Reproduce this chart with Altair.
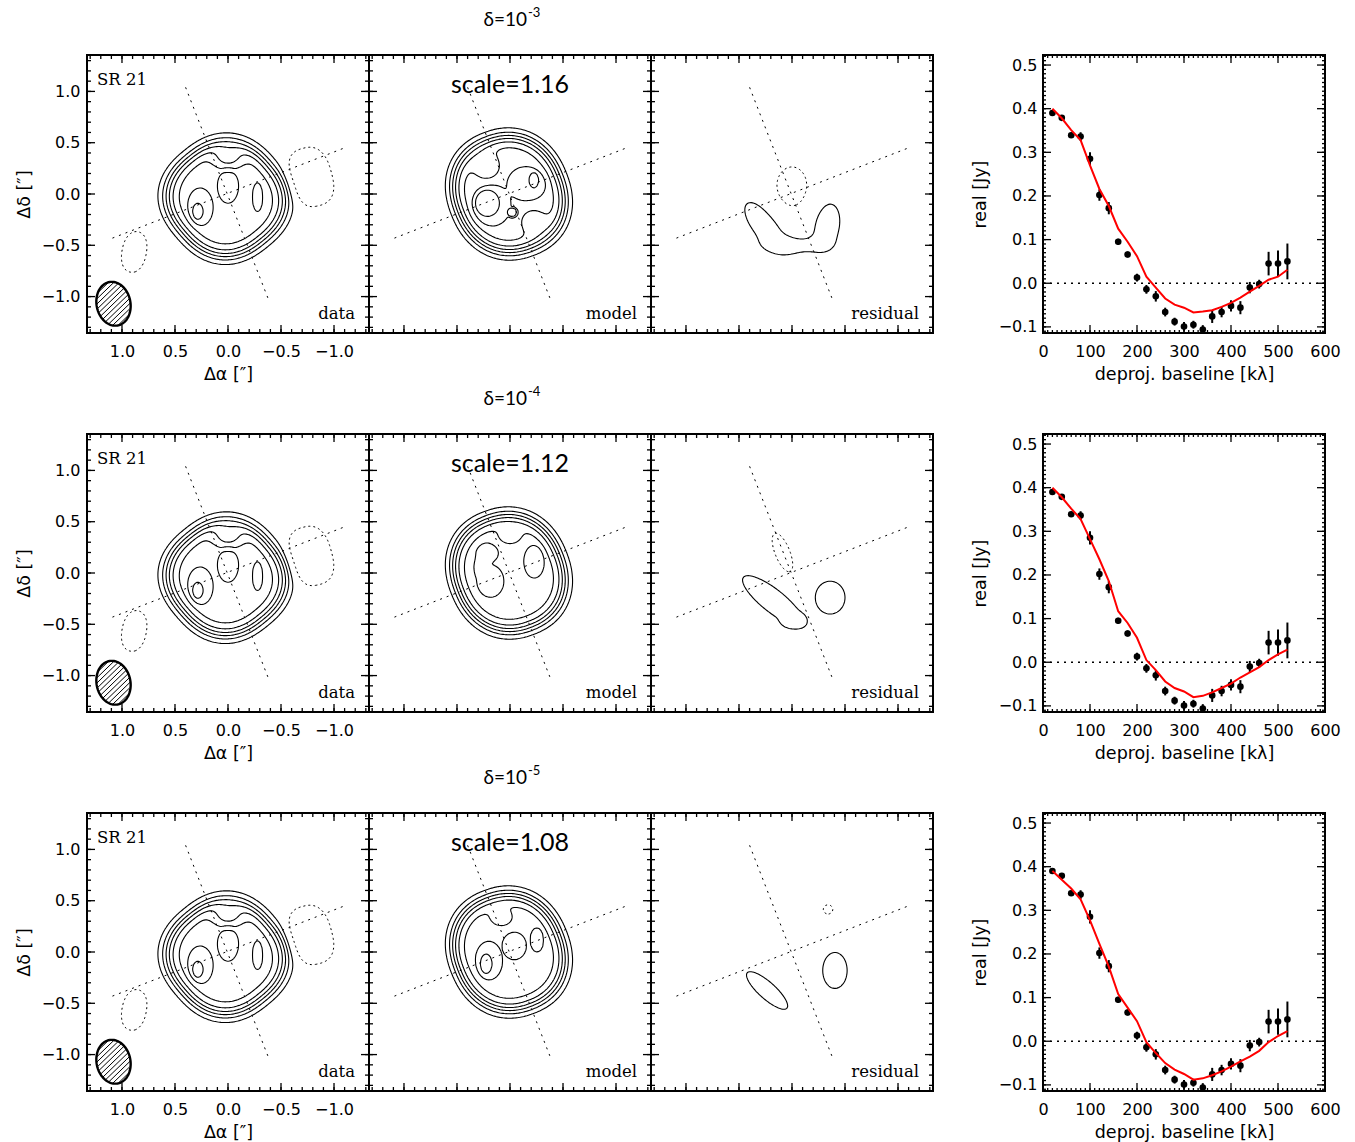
import numpy as np
import pandas as pd
import altair as alt

alt.data_transformers.disable_max_rows()

# ------------------------------------------------------------------
# Visibility profile: binned real part vs. deprojected baseline
# ------------------------------------------------------------------
BASELINE_KL = [20, 40, 60, 80, 100, 120, 140, 160, 180, 200, 220, 240, 260,
               280, 300, 320, 340, 360, 380, 400, 420, 440, 460, 480, 500, 520]
REAL_JY = [0.390, 0.379, 0.339, 0.336, 0.285, 0.202, 0.172, 0.095, 0.066,
           0.013, -0.014, -0.030, -0.066, -0.088, -0.099, -0.095, -0.106,
           -0.076, -0.066, -0.052, -0.056, -0.010, -0.002, 0.045, 0.045, 0.050]
REAL_ERR = [0.006, 0.006, 0.006, 0.010, 0.015, 0.013, 0.014, 0.007, 0.007,
            0.009, 0.010, 0.012, 0.010, 0.009, 0.010, 0.009, 0.010, 0.015,
            0.012, 0.013, 0.015, 0.013, 0.010, 0.027, 0.030, 0.041]
MODEL_D3 = [0.400, 0.378, 0.351, 0.328, 0.270, 0.216, 0.177, 0.125, 0.095,
            0.062, 0.015, -0.010, -0.035, -0.049, -0.056, -0.067, -0.065,
            -0.062, -0.054, -0.045, -0.033, -0.019, -0.006, 0.008, 0.015, 0.031]
MODEL_D4 = [0.400, 0.378, 0.352, 0.328, 0.282, 0.236, 0.186, 0.117, 0.090,
            0.056, 0.005, -0.018, -0.044, -0.059, -0.067, -0.080, -0.077,
            -0.069, -0.059, -0.049, -0.035, -0.023, -0.011, 0.005, 0.018, 0.029]
MODEL_D5 = [0.390, 0.370, 0.350, 0.325, 0.277, 0.223, 0.171, 0.108, 0.077,
            0.046, -0.002, -0.027, -0.050, -0.065, -0.075, -0.088, -0.085,
            -0.078, -0.069, -0.058, -0.046, -0.035, -0.022, -0.002, 0.012, 0.023]
MODEL_CURVES = [MODEL_D3, MODEL_D4, MODEL_D5]

DELTA_EXP = ["-3", "-4", "-5"]
SCALE_TEXT = ["scale=1.16", "scale=1.12", "scale=1.08"]

# ------------------------------------------------------------------
# Sky-brightness components (arcsec, x = Δα).  Soft-edged disks:
#   (x0, y0, a, b, angle, superellipse p, amplitude, edge width)
# Gaussian blobs:
#   (x0, y0, sx, sy, angle, amplitude)
# ------------------------------------------------------------------
DATA_DISKS = [
    (0.02, -0.045, 0.53, 0.52, 50, 2.4, 6.6, 0.18),
    (0.265, -0.13, 0.125, 0.19, 0, 2.0, 0.8, 0.15),
    (0.285, -0.17, 0.05, 0.08, 0, 2.0, 1.2, 0.2),
    (0.0, 0.08, 0.10, 0.17, 0, 2.0, 0.8, 0.15),
    (-0.28, -0.03, 0.05, 0.145, 0, 2.0, 0.8, 0.15),
    (-0.78, 0.165, 0.20, 0.29, -15, 2.6, -2.0, 0.25),
    (0.885, -0.565, 0.115, 0.20, 10, 2.2, -2.0, 0.25),
]
DATA_BLOBS = [(0.0, 0.36, 0.10, 0.08, 0, -2.0)]

MODEL_DISKS = [
    [(0.01, 0.0, 0.56, 0.505, 69, 2.2, 6.6, 0.171),
     (0.18, -0.11, 0.19, 0.21, 0, 2.0, 0.8, 0.15),
     (-0.16, 0.10, 0.19, 0.17, 0, 2.0, 0.8, 0.15),
     (0.215, -0.09, 0.115, 0.13, 0, 2.0, 1.2, 0.15),
     (-0.225, 0.135, 0.045, 0.075, 0, 2.0, 1.2, 0.15),
     (-0.025, -0.18, 0.05, 0.05, 0, 2.0, 1.6, 0.15)],
    [(0.01, 0.0, 0.56, 0.505, 69, 2.2, 6.6, 0.171),
     (0.22, 0.20, 0.12, 0.11, 0, 2.0, 0.6, 0.15),
     (0.19, -0.08, 0.14, 0.17, 0, 2.0, 0.6, 0.15),
     (0.28, 0.06, 0.07, 0.11, 0, 2.0, 0.6, 0.15),
     (-0.23, 0.115, 0.10, 0.165, 0, 2.0, 0.8, 0.15)],
    [(0.01, 0.0, 0.56, 0.505, 69, 2.2, 6.6, 0.171),
     (-0.04, 0.06, 0.115, 0.135, 0, 2.0, 0.8, 0.08),
     (0.20, -0.085, 0.13, 0.19, 0, 2.0, 0.8, 0.08),
     (0.225, -0.115, 0.055, 0.095, 0, 2.0, 1.2, 0.15),
     (-0.255, 0.12, 0.065, 0.12, 0, 2.0, 0.8, 0.08)],
]
MODEL_BLOBS = [
    [(0.22, 0.27, 0.09, 0.09, 0, -1.4), (-0.22, -0.27, 0.09, 0.09, 0, -1.2)],
    [(0.0, 0.36, 0.09, 0.07, 0, -1.0)],
    [(0.08, 0.33, 0.09, 0.07, 0, -1.0)],
]
RESID_DISKS = [
    [],
    [(0.18, -0.27, 0.36, 0.11, 39.5, 2.0, 2.0, 0.25),
     (-0.01, -0.46, 0.12, 0.08, 0, 2.0, 2.0, 0.25),
     (-0.36, -0.24, 0.14, 0.16, 0, 2.0, 2.0, 0.25),
     (0.09, 0.20, 0.20, 0.07, 69, 2.0, -2.0, 0.25)],
    [(0.235, -0.375, 0.255, 0.08, 43, 2.0, 2.0, 0.25),
     (-0.405, -0.18, 0.115, 0.175, 0, 2.0, 2.0, 0.25),
     (-0.34, 0.415, 0.045, 0.045, 0, 2.0, -2.0, 0.25)],
]
RESID_BLOBS = [
    [(0.26, -0.30, 0.26, 0.115, 53, 1.7),
     (-0.33, -0.30, 0.21, 0.115, 98, 1.7),
     (-0.02, -0.50, 0.20, 0.06, 0, 1.2),
     (0.0, 0.07, 0.15, 0.20, 0, -1.6)],
    [],
    [],
]
IMAGE_LEVELS = [1, 2, 3, 4, 5, 6, 7, 8]
RESID_LEVELS = [1]
NEG_LEVELS = [-1]

# disk major / minor axis guide lines
GUIDE_X1 = [0.40, 1.09]
GUIDE_Y1 = [1.04, -0.43]
GUIDE_X2 = [-0.39, -1.10]
GUIDE_Y2 = [-1.05, 0.45]

# synthesized beam: centre, semi-major, semi-minor, angle of major axis
BEAM = (1.08, -1.07, 0.215, 0.16, 80)
HATCH_STEP = 0.036

# axis ticks
IMG_MAJOR = [-1.0, -0.5, 0.0, 0.5, 1.0]
IMG_MINOR = [round(-1.3 + 0.1 * k, 1) for k in range(27)]
VIS_X_MAJOR = [0, 100, 200, 300, 400, 500, 600]
VIS_X_MINOR = list(range(0, 601, 10))
VIS_Y_MAJOR = [-0.1, 0.0, 0.1, 0.2, 0.3, 0.4, 0.5]
VIS_Y_MINOR = [round(-0.11 + 0.01 * k, 2) for k in range(64)]

W_IMG, H_IMG, W_VIS, GAP = 282, 278, 282, 110

GRID = np.linspace(-1.33, 1.33, 201)
GX, GY = np.meshgrid(GRID, GRID)


def rotated(x0, y0, ang):
    t = np.deg2rad(ang)
    dx, dy = GX - x0, GY - y0
    return dx * np.cos(t) + dy * np.sin(t), -dx * np.sin(t) + dy * np.cos(t)


def brightness(disks, blobs):
    z = np.zeros_like(GX)
    for x0, y0, a, b, ang, p, amp, w in disks:
        u, v = rotated(x0, y0, ang)
        r = (np.abs(u / a) ** p + np.abs(v / b) ** p) ** (1.0 / p)
        z += amp * 0.5 * (1.0 - np.tanh((r - 1.0) / w))
    for x0, y0, sx, sy, ang, amp in blobs:
        u, v = rotated(x0, y0, ang)
        z += amp * np.exp(-0.5 * ((u / sx) ** 2 + (v / sy) ** 2))
    return z


# marching squares lookup: corner bits a=1 (bl), b=2 (br), c=4 (tr), d=8 (tl)
SEG = {1: [('L', 'B')], 2: [('B', 'R')], 3: [('L', 'R')], 4: [('R', 'T')],
       6: [('B', 'T')], 7: [('L', 'T')], 8: [('T', 'L')], 9: [('B', 'T')],
       11: [('R', 'T')], 12: [('L', 'R')], 13: [('B', 'R')], 14: [('L', 'B')]}


def trace(z, level):
    above = z > level
    case = (above[:-1, :-1] * 1 + above[:-1, 1:] * 2
            + above[1:, 1:] * 4 + above[1:, :-1] * 8)
    ii, jj = np.nonzero((case > 0) & (case < 15))
    adj = {}
    for i, j in zip(ii.tolist(), jj.tolist()):
        k = int(case[i, j])
        edges = {'B': ('h', i, j), 'T': ('h', i + 1, j),
                 'L': ('v', i, j), 'R': ('v', i, j + 1)}
        if k in (5, 10):
            centre = z[i:i + 2, j:j + 2].mean() > level
            pairs = [('B', 'R'), ('T', 'L')] if (k == 5) == centre else [('L', 'B'), ('R', 'T')]
        else:
            pairs = SEG[k]
        for e1, e2 in pairs:
            p, q = edges[e1], edges[e2]
            adj.setdefault(p, []).append(q)
            adj.setdefault(q, []).append(p)

    def point(key):
        kind, i, j = key
        if kind == 'h':
            z0, z1 = z[i, j], z[i, j + 1]
            f = (level - z0) / (z1 - z0)
            return GRID[j] + f * (GRID[j + 1] - GRID[j]), GRID[i]
        z0, z1 = z[i, j], z[i + 1, j]
        f = (level - z0) / (z1 - z0)
        return GRID[j], GRID[i] + f * (GRID[i + 1] - GRID[i])

    seen, paths = set(), []
    starts = [k for k, v in adj.items() if len(v) == 1] + list(adj)
    for start in starts:
        if start in seen:
            continue
        seen.add(start)
        path, cur = [start], start
        while True:
            nxt = [n for n in adj[cur] if n not in seen]
            if not nxt:
                break
            cur = nxt[0]
            seen.add(cur)
            path.append(cur)
        if len(path) > 2 and start in adj[cur]:
            path.append(start)
        paths.append([point(k) for k in path])
    return paths


def contour_frame(z, levels):
    rows, pid = [], 0
    for lev in levels:
        for path in trace(z, lev):
            for k, (x, y) in enumerate(path):
                rows.append((pid, k, round(float(x), 4), round(float(y), 4)))
            pid += 1
    return pd.DataFrame(rows, columns=['path', 'ord', 'x', 'y'])


def beam_frames():
    x0, y0, A, B, ang = BEAM
    t = np.deg2rad(ang)
    e1 = np.array([np.cos(t), np.sin(t)])
    e2 = np.array([-np.sin(t), np.cos(t)])
    s = np.linspace(0, 2 * np.pi, 121)
    ox = x0 + A * np.cos(s) * e1[0] + B * np.sin(s) * e2[0]
    oy = y0 + A * np.cos(s) * e1[1] + B * np.sin(s) * e2[1]
    outline = pd.DataFrame({'ord': np.arange(s.size), 'x': ox, 'y': oy})
    d = np.array([-1.0, 1.0]) / np.sqrt(2)
    n = np.array([1.0, 1.0]) / np.sqrt(2)
    du, dv = d @ e1, d @ e2
    segs = []
    off = -A
    while off <= A:
        u0, v0 = off * (n @ e1), off * (n @ e2)
        qa = du ** 2 / A ** 2 + dv ** 2 / B ** 2
        qb = 2 * (u0 * du / A ** 2 + v0 * dv / B ** 2)
        qc = u0 ** 2 / A ** 2 + v0 ** 2 / B ** 2 - 1
        disc = qb ** 2 - 4 * qa * qc
        if disc > 0:
            t1 = (-qb - np.sqrt(disc)) / (2 * qa)
            t2 = (-qb + np.sqrt(disc)) / (2 * qa)
            p1 = np.array([x0, y0]) + off * n + t1 * d
            p2 = np.array([x0, y0]) + off * n + t2 * d
            segs.append((p1[0], p1[1], p2[0], p2[1]))
        off += HATCH_STEP
    hatch = pd.DataFrame(segs, columns=['x', 'y', 'x2', 'y2'])
    return outline, hatch


def tick_layers(X, Y, xmaj, xmin, ymaj, ymin, W, H, lmaj=8, lmin=4):
    layers = []
    for vals, L in ((xmaj, lmaj), (xmin, lmin)):
        base = alt.Chart(pd.DataFrame({'v': vals})).mark_rule(color='black', strokeWidth=1.3)
        layers.append(base.encode(x=X('v'), y=alt.value(H), y2=alt.value(H - L)))
        layers.append(base.encode(x=X('v'), y=alt.value(0), y2=alt.value(L)))
    for vals, L in ((ymaj, lmaj), (ymin, lmin)):
        base = alt.Chart(pd.DataFrame({'v': vals})).mark_rule(color='black', strokeWidth=1.3)
        layers.append(base.encode(y=Y('v'), x=alt.value(0), x2=alt.value(L)))
        layers.append(base.encode(y=Y('v'), x=alt.value(W), x2=alt.value(W - L)))
    return layers


def label(text, x, y, font, size, align='left', baseline='middle'):
    return alt.Chart(pd.DataFrame({'t': [text]})).mark_text(
        font=font, fontSize=size, align=align, baseline=baseline, color='black'
    ).encode(text='t:N', x=alt.value(x), y=alt.value(y))


def encoders(xs, ys, xax, yax):
    def X(field):
        return alt.X(field, type='quantitative', scale=xs, axis=xax)

    def Y(field):
        return alt.Y(field, type='quantitative', scale=ys, axis=yax)
    return X, Y


def image_panel(z, levels, corner, with_axes=False, top_text=None, delta=None, beam=False):
    xs = alt.Scale(domain=[-1.33, 1.33], reverse=True, nice=False, zero=False)
    ys = alt.Scale(domain=[-1.355, 1.355], nice=False, zero=False)
    if with_axes:
        xax = alt.Axis(values=IMG_MAJOR, format='.1f', labelPadding=10,
                       title='Δα [″]', titlePadding=6)
        yax = alt.Axis(values=IMG_MAJOR, format='.1f', labelPadding=7,
                       title='Δδ [″]', titlePadding=8)
    else:
        xax = None
        yax = None
    X, Y = encoders(xs, ys, xax, yax)
    pos = contour_frame(z, levels)
    neg = contour_frame(z, NEG_LEVELS)
    guides = pd.DataFrame({'x': GUIDE_X1, 'y': GUIDE_Y1, 'x2': GUIDE_X2, 'y2': GUIDE_Y2})

    layers = tick_layers(X, Y, IMG_MAJOR, IMG_MINOR, IMG_MAJOR, IMG_MINOR, W_IMG, H_IMG)
    layers.append(alt.Chart(guides).mark_rule(color='black', strokeWidth=1, strokeDash=[2, 5]).encode(
        x=X('x'), y=Y('y'), x2='x2:Q', y2='y2:Q'))
    layers.append(alt.Chart(pos).mark_line(color='black', strokeWidth=1.1).encode(
        x=X('x'), y=Y('y'), detail='path:N', order='ord:Q'))
    layers.append(alt.Chart(neg).mark_line(color='black', strokeWidth=1, strokeDash=[2, 3]).encode(
        x=X('x'), y=Y('y'), detail='path:N', order='ord:Q'))
    if beam:
        outline, hatch = beam_frames()
        layers.append(alt.Chart(hatch).mark_rule(color='black', strokeWidth=1).encode(
            x=X('x'), y=Y('y'), x2='x2:Q', y2='y2:Q'))
        layers.append(alt.Chart(outline).mark_line(color='black', strokeWidth=2.4).encode(
            x=X('x'), y=Y('y'), order='ord:Q'))
        layers.append(label('SR 21', 10, 25, 'DejaVu Serif', 16.5))
    layers.append(label(corner, 268, 259, 'DejaVu Serif', 16.5, align='right'))
    if top_text:
        layers.append(label(top_text, W_IMG / 2, 30, 'Lato', 25, align='center'))
    if delta:
        layers.append(label('δ=10', 158, -35, 'Lato', 19, align='right'))
        layers.append(label(delta, 159, -42, 'Lato', 13, align='left'))
    return alt.layer(*layers).properties(width=W_IMG, height=H_IMG)


def vis_panel(model_vals):
    xs = alt.Scale(domain=[0, 600], nice=False, zero=False)
    ys = alt.Scale(domain=[-0.114, 0.523], nice=False, zero=False)
    xax = alt.Axis(values=VIS_X_MAJOR, format='d', labelPadding=10,
                   title='deproj. baseline [kλ]', titlePadding=6)
    yax = alt.Axis(values=VIS_Y_MAJOR, format='.1f', labelPadding=6,
                   title='real [Jy]', titlePadding=9)
    X, Y = encoders(xs, ys, xax, yax)
    pts = pd.DataFrame({'b': BASELINE_KL, 're': REAL_JY,
                        'lo': np.array(REAL_JY) - np.array(REAL_ERR),
                        'hi': np.array(REAL_JY) + np.array(REAL_ERR)})
    mdl = pd.DataFrame({'b': BASELINE_KL, 'm': model_vals})
    layers = tick_layers(X, Y, VIS_X_MAJOR, VIS_X_MINOR, VIS_Y_MAJOR, VIS_Y_MINOR,
                         W_VIS, H_IMG, lmaj=8, lmin=3)
    layers.append(alt.Chart(pd.DataFrame({'z': [0.0]})).mark_rule(
        color='black', strokeWidth=1.6, strokeDash=[2, 5]).encode(y=Y('z')))
    layers.append(alt.Chart(pts).mark_rule(color='black', strokeWidth=2).encode(
        x=X('b'), y=Y('lo'), y2='hi:Q'))
    layers.append(alt.Chart(pts).mark_circle(color='black', opacity=1, size=44).encode(
        x=X('b'), y=Y('re')))
    layers.append(alt.Chart(mdl).mark_line(color='#ff0000', strokeWidth=2).encode(
        x=X('b'), y=Y('m')))
    return alt.layer(*layers).properties(width=W_VIS, height=H_IMG)


def spacer():
    return alt.Chart(pd.DataFrame({'s': [0]})).mark_point(opacity=0).encode(
        x=alt.value(0), y=alt.value(0)
    ).properties(width=GAP, height=H_IMG, view=alt.ViewBackground(strokeOpacity=0))


data_z = brightness(DATA_DISKS, DATA_BLOBS)
panels = []
for r in range(3):
    model_z = brightness(MODEL_DISKS[r], MODEL_BLOBS[r])
    resid_z = brightness(RESID_DISKS[r], RESID_BLOBS[r])
    panels.append(image_panel(data_z, IMAGE_LEVELS, 'data', with_axes=True, beam=True))
    panels.append(image_panel(model_z, IMAGE_LEVELS, 'model', top_text=SCALE_TEXT[r],
                              delta=DELTA_EXP[r]))
    panels.append(image_panel(resid_z, RESID_LEVELS, 'residual'))
    panels.append(spacer())
    panels.append(vis_panel(MODEL_CURVES[r]))

chart = alt.concat(
    *panels, columns=5, spacing={'row': 101, 'column': 0}, bounds='flush'
).properties(
    padding={'left': 14, 'top': 6, 'right': 5, 'bottom': 5}
).configure_view(
    stroke='black', strokeWidth=2
).configure_axis(
    labelFont='DejaVu Sans', labelFontSize=16, labelColor='black',
    titleFont='DejaVu Sans', titleFontSize=17.5, titleFontWeight='normal', titleColor='black',
    ticks=False, domain=False, grid=False, labelOverlap=False, labelFlush=False
)

chart.save("out.html", embed_options={"renderer": "svg", "actions": False})
